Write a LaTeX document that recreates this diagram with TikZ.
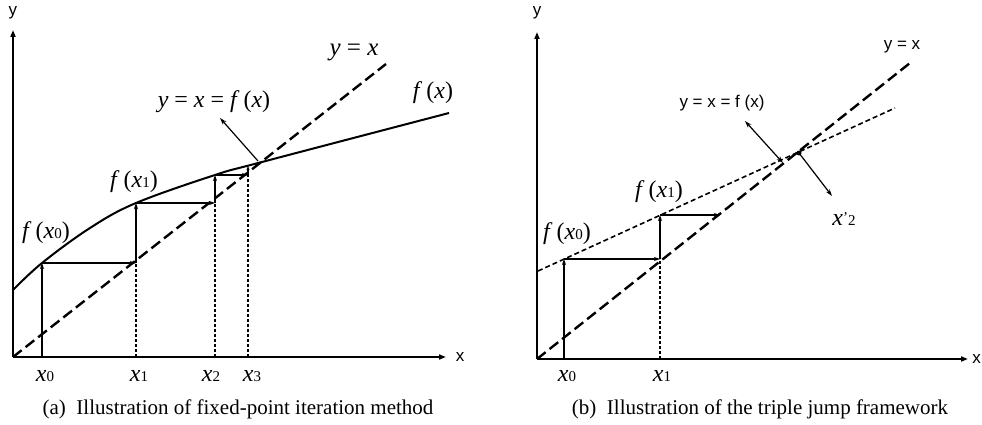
\documentclass[tikz,border=0pt]{standalone}
\usepackage{fontspec}
\setmainfont{Liberation Serif}
\newfontfamily\arial{Liberation Sans}
\usetikzlibrary{arrows.meta}
\newcommand{\sbd}[1]{{\fontsize{15}{15}\selectfont #1}}
\begin{document}
\begin{tikzpicture}[x=1pt,y=-1pt,
  axis/.style={line width=2pt,-{Triangle[length=7pt,width=5pt]}},
  ident/.style={line width=2.4pt,dash pattern=on 11pt off 5pt},
  fline/.style={line width=1.6pt,dash pattern=on 5pt off 3pt},
  curve/.style={line width=2pt},
  jump/.style={line width=1.8pt,-{Stealth[length=6pt,width=4pt]}},
  guide/.style={line width=1.5pt,dash pattern=on 3pt off 2pt},
  pointer/.style={line width=1.2pt,-{Stealth[length=7pt,width=4.5pt]}},
  axlab/.style={font=\arial\fontsize{17}{19}\selectfont,inner sep=0pt},
  mlab/.style={font=\fontsize{24}{26}\selectfont,inner sep=0pt},
  captxt/.style={font=\fontsize{21}{24}\selectfont,inner sep=0pt},
  slab/.style={font=\arial\fontsize{17}{19}\selectfont,inner sep=0pt}]
\useasboundingbox (0,0) rectangle (982,425);
% ---------- left panel ----------
\coordinate (O1) at (13,357);
\coordinate (Y1) at (13,30);
\coordinate (X1) at (446,357);
\coordinate (D1) at (386,64);
\draw[axis] (O1) -- (Y1);
\draw[axis] (O1) -- (X1);
\node[axlab] (ylab1) at (13,13) {y};
\node[axlab] (xlab1) at (460,357) {x};
\draw[ident] (O1) -- (D1);
\draw[curve] plot[smooth,tension=0.6] coordinates {(13,290) (42,263) (90,228) (136,203) (215,175) (262,162) (449,113)};
\coordinate (A0) at (42,357);
\coordinate (A0f) at (42,263);
\coordinate (A1) at (136,263);
\coordinate (A1b) at (136,357);
\coordinate (A1f) at (136,203);
\coordinate (A2) at (215,203);
\coordinate (A2b) at (215,357);
\coordinate (A2f) at (215,175);
\coordinate (A3) at (248,175);
\coordinate (A3b) at (248,357);
\coordinate (A3f) at (248,166);
\draw[guide] (A1b) -- (A1);
\draw[guide] (A2b) -- (A2);
\draw[guide] (A3b) -- (A3);
\draw[jump] (A0) -- (A0f);
\draw[jump] (A0f) -- (A1);
\draw[jump] (A1) -- (A1f);
\draw[jump] (A1f) -- (A2);
\draw[jump] (A2) -- (A2f);
\draw[jump] (A2f) -- (A3);
\draw[line width=1.2pt,-{Stealth[length=4pt,width=3pt]}] (A3) -- (A3f);
\coordinate (Q1) at (258,161);
\coordinate (Q1t) at (220,118);
\draw[pointer] (Q1) -- (Q1t);
\node[mlab] (fx0a) at (46,233) {\textit{f}\,(\textit{x}\sbd{0})};
\node[mlab] (fx1a) at (134,182) {\textit{f}\,(\textit{x}\sbd{1})};
\node[mlab] (fixa) at (214,102) {\textit{y} = \textit{x} = \textit{f}\,(\textit{x})};
\node[font=\fontsize{25}{28}\selectfont,inner sep=0pt] (yxa) at (354,52) {\textit{y} = \textit{x}};
\node[mlab] (fxa) at (433,93) {\textit{f}\,(\textit{x})};
\node[mlab] (x0a) at (45,376) {\textit{x}\sbd{0}};
\node[mlab] (x1a) at (139,376) {\textit{x}\sbd{1}};
\node[mlab] (x2a) at (211,376) {\textit{x}\sbd{2}};
\node[mlab] (x3a) at (252,376) {\textit{x}\sbd{3}};
\node[captxt] (capa) at (238,409) {(a)\ \ Illustration of fixed-point iteration method};
% ---------- right panel ----------
\coordinate (O2) at (537,359);
\coordinate (Y2) at (537,32);
\coordinate (X2) at (968,359);
\coordinate (D2) at (910,63);
\coordinate (F2a) at (538,271);
\coordinate (F2b) at (895,108);
\draw[axis] (O2) -- (Y2);
\draw[axis] (O2) -- (X2);
\node[axlab] (ylab2) at (537,13) {y};
\node[axlab,anchor=east] (xlab2) at (981,359) {x};
\draw[ident] (O2) -- (D2);
\draw[fline] (F2a) -- (F2b);
\coordinate (B0) at (564,359);
\coordinate (B0f) at (564,259);
\coordinate (B1) at (660,259);
\coordinate (B1b) at (660,359);
\coordinate (B1f) at (660,215);
\coordinate (B2) at (720,215);
\draw[guide] (B1b) -- (B1);
\draw[jump] (B0) -- (B0f);
\draw[jump] (B0f) -- (B1);
\draw[jump] (B1) -- (B1f);
\draw[jump] (B1f) -- (B2);
\coordinate (P1) at (783,163);
\coordinate (P1t) at (745,121);
\coordinate (P2) at (799,153);
\coordinate (P2t) at (832,196);
\draw[line width=1.2pt,{Stealth[length=7pt,width=4.5pt]}-{Stealth[length=7pt,width=4.5pt]}] (P1) -- (P1t);
\fill (P2) circle (2.5pt);
\draw[pointer] (P2) -- (P2t);
\node[slab] (fixb) at (722,103) {y = x = f (x)};
\node[slab] (yxb) at (902,47) {y = x};
\node[mlab] (fx0b) at (567,234) {\textit{f}\,(\textit{x}\sbd{0})};
\node[mlab] (fx1b) at (659,192) {\textit{f}\,(\textit{x}\sbd{1})};
\node[mlab] (x2b) at (844,219) {\textit{x}\raisebox{0.35ex}{\sbd{\char"2019}}\sbd{2}};
\node[mlab] (x0b) at (567,376) {\textit{x}\sbd{0}};
\node[mlab] (x1b) at (662,376) {\textit{x}\sbd{1}};
\node[captxt] (capb) at (760,409) {(b)\ \ Illustration of the triple jump framework};
\end{tikzpicture}
\end{document}
